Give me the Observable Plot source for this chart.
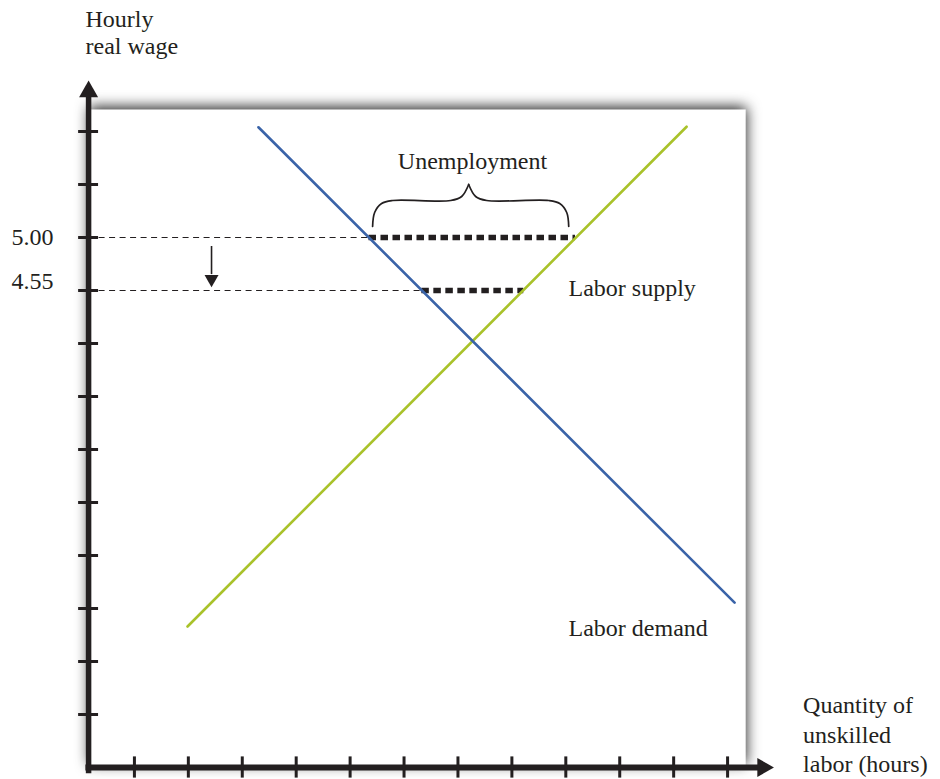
<!DOCTYPE html>
<html>
<head>
<meta charset="utf-8">
<script src="https://cdn.jsdelivr.net/npm/d3@7"></script>
<script src="https://cdn.jsdelivr.net/npm/@observablehq/plot@0.6"></script>
<style>
  html, body { margin: 0; padding: 0; background: #fff; }
</style>
</head>
<body>
<div id="chart"></div>
<script>
// ---- Data (abstract grid units: one unit = one tick step) ----
const xTicks = [1, 2, 3, 4, 5, 6, 7, 8, 9, 10, 11, 12];
const yTicks = [1, 2, 3, 4, 5, 6, 7, 8, 9, 10, 11, 12];
const wageLevels = [10, 9];               // grid positions of the labelled wages
const wageLabels = ["5.00", "4.55"];
const demandQ = [3.30, 12.13];
const demandW = [12.08, 3.11];
const supplyQ = [1.985, 11.24];
const supplyW = [2.66, 12.09];
// quantity demanded / supplied at each wage level
const qDemandAtWage = [5.35, 6.33];
const qSupplyAtWage = [9.18, 8.22];
const axisOrigin = 0.15;
const panelTop = 12.4, panelRight = 12.34;

const demand = demandQ.map((q, i) => ({q, w: demandW[i]}));
const supply = supplyQ.map((q, i) => ({q, w: supplyW[i]}));
const levels = wageLevels.map((w, i) => ({w, label: wageLabels[i], qd: qDemandAtWage[i], qs: qSupplyAtWage[i]}));

// brace shape (left half and right half meeting at the tip)
const braceQ = [5.417, 5.455, 5.584, 5.788, 6.865, 7.069, 7.199, 7.328, 7.532, 8.683, 8.887, 9.017, 9.054];
const braceW = [10.208, 10.472, 10.642, 10.698, 10.698, 10.774, 11.0, 10.774, 10.698, 10.698, 10.642, 10.472, 10.208];
const brace = [];
braceQ.forEach((q, i) => {
  if (i <= 6) brace.push({q, w: braceW[i], side: "L"});
  if (i >= 6) brace.push({q, w: braceW[i], side: "R"});
});

// filled arrowhead symbols, tip at the anchor point
function arrowHead(dir) {
  return {
    draw(ctx, size) {
      const r = Math.sqrt(size / Math.PI), L = 1.75 * r;
      const pts = {
        up:    [[0, 0], [-r, L], [r, L]],
        down:  [[0, 0], [-r, -L], [r, -L]],
        right: [[0, 0], [-L, -r], [-L, r]]
      }[dir];
      ctx.moveTo(pts[0][0], pts[0][1]);
      ctx.lineTo(pts[1][0], pts[1][1]);
      ctx.lineTo(pts[2][0], pts[2][1]);
      ctx.closePath();
    }
  };
}

const serif = "Liberation Serif";
const ink = "#231f20";
const fs = 24;

const svg = Plot.plot({
  width: 940,
  height: 779,
  marginLeft: 80,
  marginRight: 159,
  marginTop: 78,
  marginBottom: 12,
  x: {domain: [0, 13], axis: null},
  y: {domain: [0, 13], axis: null},
  style: {background: "#fff", fontFamily: serif},
  marks: [
    // white panel with shadow
    Plot.rect([{x1: axisOrigin, x2: panelRight, y1: 0, y2: panelTop}], {x1: "x1", x2: "x2", y1: "y1", y2: "y2", fill: "#fff"}),
    // thin dashed guides from axis to demand curve
    Plot.ruleY(levels, {y: "w", x1: axisOrigin, x2: "qd", stroke: ink, strokeWidth: 1.2, strokeDasharray: "6,4.5"}),
    // thick dashed unemployment gaps
    Plot.ruleY(levels, {y: "w", x1: "qd", x2: "qs", stroke: ink, strokeWidth: 5.5, strokeDasharray: "7.5,4.5"}),
    // curves
    Plot.line(supply, {x: "q", y: "w", stroke: "#a9c22a", strokeWidth: 2.6}),
    Plot.line(demand, {x: "q", y: "w", stroke: "#3a63a8", strokeWidth: 2.6}),
    // brace
    Plot.line(brace, {x: "q", y: "w", z: "side", curve: "catmull-rom", stroke: ink, strokeWidth: 1.7}),
    // small down arrow
    Plot.ruleX([2.43], {y1: 9.83, y2: 9.3, stroke: ink, strokeWidth: 1.6}),
    Plot.dot([{q: 2.43, w: 9.06}], {x: "q", y: "w", r: 7, symbol: arrowHead("down"), fill: ink, stroke: "none"}),
    // axes
    Plot.ruleX([axisOrigin], {y1: -0.12, y2: 12.7, stroke: ink, strokeWidth: 5.5}),
    Plot.ruleY([0], {x1: axisOrigin - 0.05, x2: 12.6, stroke: ink, strokeWidth: 6}),
    Plot.dot([{q: axisOrigin, w: 12.96}], {x: "q", y: "w", r: 9.5, symbol: arrowHead("up"), fill: ink, stroke: "none"}),
    Plot.dot([{q: 12.86, w: 0}], {x: "q", y: "w", r: 9.5, symbol: arrowHead("right"), fill: ink, stroke: "none"}),
    Plot.ruleY(yTicks, {x1: axisOrigin - 0.185, x2: axisOrigin + 0.185, stroke: ink, strokeWidth: 3}),
    Plot.ruleX(xTicks, {y1: -0.2, y2: 0.2, stroke: ink, strokeWidth: 3}),
    // wage tick labels
    Plot.text(levels.slice(0, 1), {x: -0.5, y: "w", text: "label", textAnchor: "end", fontSize: fs, fontFamily: serif, fill: ink}),
    Plot.text(levels.slice(1), {x: -0.5, y: "w", dy: -9, text: "label", textAnchor: "end", fontSize: fs, fontFamily: serif, fill: ink}),
    // annotations
    Plot.text([{q: 7.27, w: 11.44, t: "Unemployment"}], {x: "q", y: "w", text: "t", textAnchor: "middle", fontSize: fs, fontFamily: serif, fill: ink}),
    Plot.text([{q: 9.05, w: 9.05, t: "Labor supply"}, {q: 9.05, w: 2.63, t: "Labor demand"}], {x: "q", y: "w", text: "t", textAnchor: "start", fontSize: fs, fontFamily: serif, fill: ink}),
    // axis titles
    Plot.text([{q: 0.093, w: 14.12, t: "Hourly"}, {q: 0.093, w: 13.61, t: "real wage"}], {x: "q", y: "w", text: "t", textAnchor: "start", fontSize: fs, fontFamily: serif, fill: ink}),
    Plot.text([{q: 13.40, w: 1.18, t: "Quantity of"}, {q: 13.40, w: 0.61, t: "unskilled"}, {q: 13.40, w: 0.06, t: "labor (hours)"}], {x: "q", y: "w", text: "t", textAnchor: "start", fontSize: fs, fontFamily: serif, fill: ink})
  ]
});

// drop shadow for the panel
const ns = "http://www.w3.org/2000/svg";
const defs = document.createElementNS(ns, "defs");
defs.innerHTML = '<filter id="panelShadow" x="-10%" y="-10%" width="120%" height="120%">' +
  '<feDropShadow dx="1" dy="-3" stdDeviation="7" flood-color="#000" flood-opacity="0.85"/></filter>';
svg.insertBefore(defs, svg.firstChild);
const rectG = svg.querySelector('g[aria-label="rect"]');
if (rectG) rectG.setAttribute("filter", "url(#panelShadow)");

document.getElementById("chart").appendChild(svg);
</script>
</body>
</html>
